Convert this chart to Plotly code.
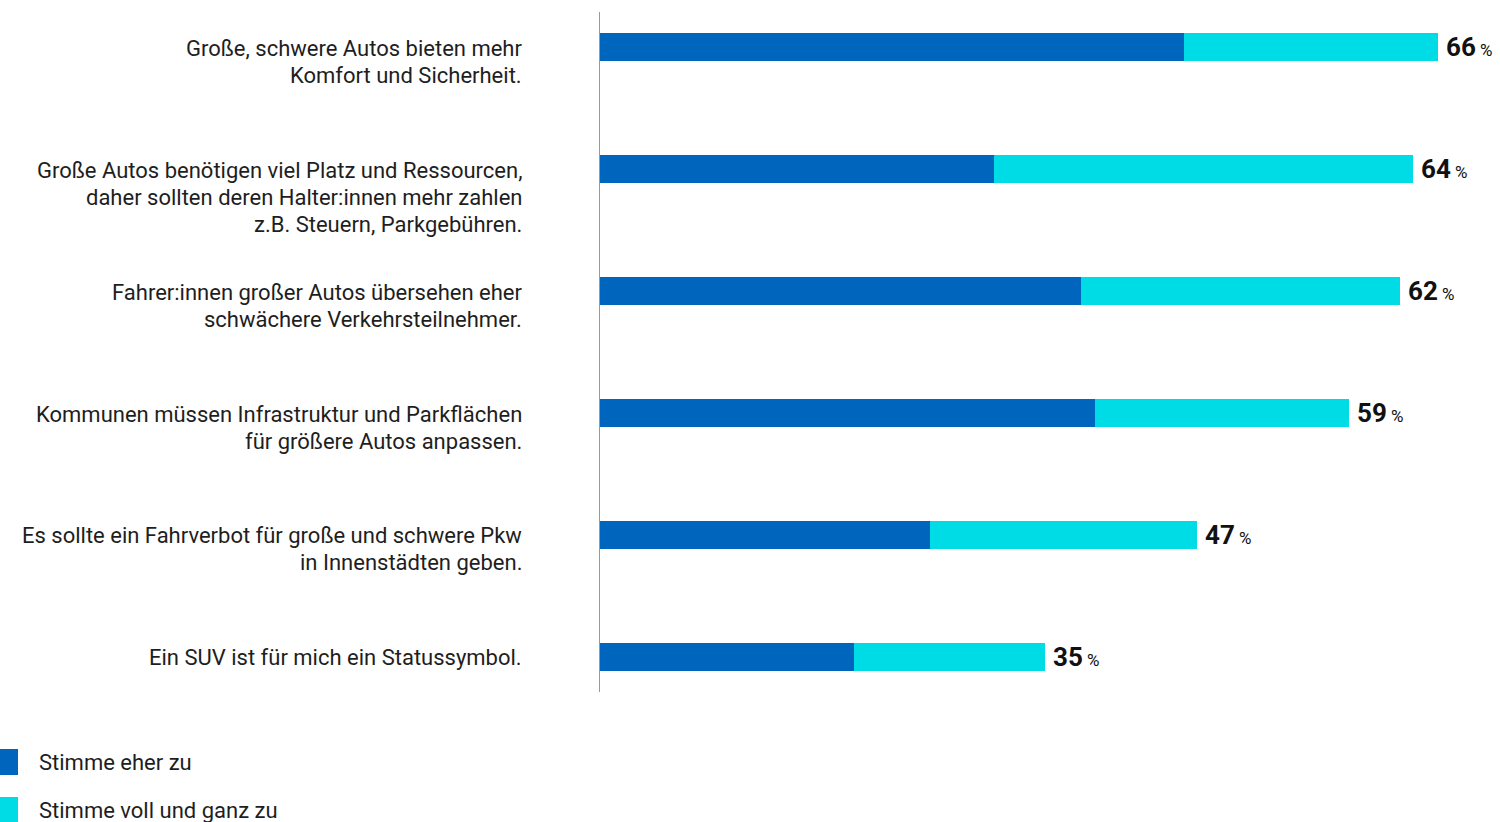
import plotly.graph_objects as go

categories = [
    "Große, schwere Autos bieten mehr<br>Komfort und Sicherheit.",
    "Große Autos benötigen viel Platz und Ressourcen,<br>daher sollten deren Halter:innen mehr zahlen<br>z.B. Steuern, Parkgebühren.",
    "Fahrer:innen großer Autos übersehen eher<br>schwächere Verkehrsteilnehmer.",
    "Kommunen müssen Infrastruktur und Parkflächen<br>für größere Autos anpassen.",
    "Es sollte ein Fahrverbot für große und schwere Pkw<br>in Innenstädten geben.",
    "Ein SUV ist für mich ein Statussymbol.",
]
eher_zu = [46, 31, 37.9, 39, 26, 20]
voll_zu = [20, 33, 25.1, 20, 21, 15]
total_labels = [66, 64, 62, 59, 47, 35]

series_names = ["Stimme eher zu", "Stimme voll und ganz zu"]
colors = ["#0066BD", "#00DCE5"]

ypos = list(range(len(categories)))
FONT = "Roboto"

fig = go.Figure()
fig.add_trace(go.Bar(y=ypos, x=eher_zu, orientation="h", name=series_names[0],
                     marker=dict(color=colors[0], line=dict(width=0)), width=0.222,
                     showlegend=False, hoverinfo="x"))
fig.add_trace(go.Bar(y=ypos, x=voll_zu, orientation="h", name=series_names[1],
                     marker=dict(color=colors[1], line=dict(width=0)), width=0.222,
                     showlegend=False, hoverinfo="x"))

annotations = []
for i, (cat, a, b, lab) in enumerate(zip(categories, eher_zu, voll_zu, total_labels)):
    for k, line in enumerate(cat.split("<br>")):
        annotations.append(dict(
            x=-76 / 900, xref="paper", y=i, yref="y", xanchor="right", yanchor="middle",
            yshift=-1 - 27 * k, text=line, align="right", showarrow=False,
            font=dict(family=FONT, size=22, color="#1e1e1e")))
    annotations.append(dict(
        x=a + b, xref="x", y=i, yref="y", xanchor="left", yanchor="middle",
        xshift=6, yshift=0, showarrow=False,
        text=f"<b>{lab}</b><span style='font-size:17px'> %</span>",
        font=dict(family=FONT, size=26, color="#111111")))

# manual legend
legend_y = [762, 810]
shapes = []
for name, col, ly in zip(series_names, colors, legend_y):
    shapes.append(dict(type="rect", xref="paper", yref="paper",
                       x0=-600 / 900, x1=-582 / 900,
                       y0=(822 - 130 - (ly + 13)) / 680, y1=(822 - 130 - (ly - 13)) / 680,
                       fillcolor=col, line=dict(width=0)))
    annotations.append(dict(x=-563 / 900, xref="paper", y=(822 - 130 - ly) / 680, yref="paper",
                            xanchor="left", yanchor="middle", text=name, showarrow=False,
                            font=dict(family=FONT, size=22, color="#1e1e1e")))

fig.update_layout(
    width=1500, height=822,
    margin=dict(l=600, r=0, t=12, b=130),
    barmode="stack",
    bargap=0,
    plot_bgcolor="white", paper_bgcolor="white",
    xaxis=dict(range=[0, 900 / 12.7], visible=False, fixedrange=True),
    yaxis=dict(range=[5.287, -0.287], showticklabels=False, showgrid=False, zeroline=False,
               showline=True, linecolor="#999999", linewidth=1, ticks="", fixedrange=True),
    annotations=annotations,
    shapes=shapes,
    font=dict(family=FONT),
)

fig.write_html("out.html", config={"displayModeBar": False},
               post_script="document.body.style.margin='0';document.body.style.overflow='hidden';")
